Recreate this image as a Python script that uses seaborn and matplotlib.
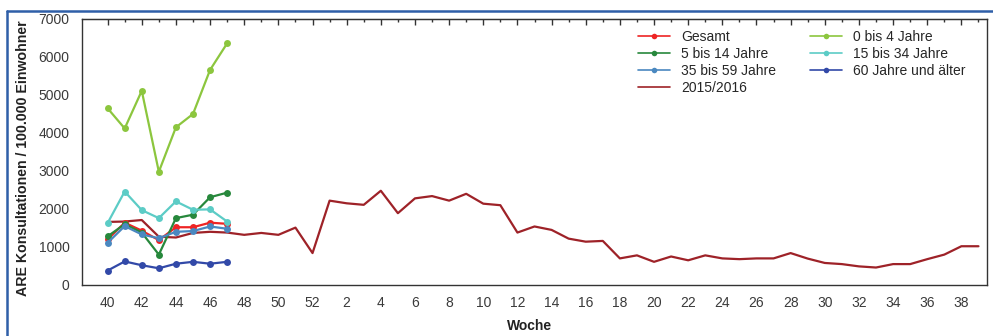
import numpy as np
import pandas as pd
import matplotlib
matplotlib.use("Agg")
import matplotlib.pyplot as plt
import seaborn as sns
from matplotlib.patches import Rectangle
from matplotlib.lines import Line2D

## Kalenderwochen der Saison (40 ... 52, 1 ... 39)
wochen = list(range(40, 53)) + list(range(1, 40))

## aktuelle Saison, Wochen 40-47
gesamt = [1200, 1640, 1430, 1180, 1520, 1520, 1640, 1610]
alter_0_4 = [4650, 4120, 5110, 2980, 4150, 4500, 5660, 6360]
alter_5_14 = [1280, 1600, 1380, 800, 1760, 1850, 2310, 2430]
alter_15_34 = [1630, 2460, 1970, 1760, 2200, 1980, 1990, 1670]
alter_35_59 = [1110, 1550, 1330, 1230, 1400, 1420, 1540, 1480]
alter_60 = [380, 620, 520, 440, 560, 610, 560, 610]

## Vorsaison 2015/2016
saison_2015 = [1660, 1670, 1710, 1270, 1250, 1370, 1400, 1380, 1320, 1370,
               1320, 1510, 840, 2220, 2150, 2110, 2480, 1890, 2280, 2340,
               2220, 2400, 2140, 2100, 1380, 1540, 1450, 1220, 1140, 1160,
               700, 780, 610, 750, 650, 780, 700, 680, 700, 700,
               840, 695, 580, 550, 490, 460, 550, 550, 680, 800,
               1020, 1020]

serien = [
    ("Gesamt", gesamt, "#ee2424"),
    ("0 bis 4 Jahre", alter_0_4, "#8cc63e"),
    ("5 bis 14 Jahre", alter_5_14, "#27883c"),
    ("15 bis 34 Jahre", alter_15_34, "#5cccc6"),
    ("35 bis 59 Jahre", alter_35_59, "#4a88c0"),
    ("60 Jahre und älter", alter_60, "#3249a8"),
]

sns.set_style("white")
plt.rcParams["font.family"] = ["Liberation Sans", "DejaVu Sans"]

fig = plt.figure(figsize=(9.93, 3.36), dpi=100)
ax = fig.add_axes([82 / 993, 1 - 285 / 336, (987 - 82) / 993, (285 - 19) / 336])

idx = np.arange(len(wochen))
df_alt = pd.DataFrame({"i": idx, "wert": saison_2015})
sns.lineplot(data=df_alt, x="i", y="wert", ax=ax, color="#9e2228", lw=1.6, zorder=2)

handles = {}
for name, werte, farbe in serien:
    d = pd.DataFrame({"i": idx[:len(werte)], "wert": werte})
    sns.lineplot(data=d, x="i", y="wert", ax=ax, color=farbe, lw=1.6,
                 marker="o", markersize=5, markeredgewidth=0, zorder=3)
    handles[name] = Line2D([], [], color=farbe, lw=1.2, marker="o",
                           markersize=4, markeredgewidth=0)
handles["2015/2016"] = Line2D([], [], color="#9e2228", lw=1.2)

reihenfolge = ["Gesamt", "5 bis 14 Jahre", "35 bis 59 Jahre", "2015/2016",
               "0 bis 4 Jahre", "15 bis 34 Jahre", "60 Jahre und älter"]
ax.legend([handles[n] for n in reihenfolge], reihenfolge, ncol=2, frameon=False,
          loc="upper left", bbox_to_anchor=(638 / 993, 1 - 30 / 336),
          bbox_transform=fig.transFigure, fontsize=10, handlelength=2.3,
          handletextpad=0.8, columnspacing=2.45, labelspacing=0.22,
          borderaxespad=0, borderpad=0)

## Achsen
ax.set_xlim(-1.5, 51.5)
ax.set_ylim(0, 7000)
major = [i for i, w in enumerate(wochen) if w % 2 == 0]
minor = [i for i, w in enumerate(wochen) if w % 2 == 1]
ax.set_xticks(major)
ax.set_xticklabels([str(wochen[i]) for i in major])
ax.set_xticks(minor, minor=True)
ax.set_yticks(range(0, 7001, 1000))
ax.set_yticks(range(0, 7001, 200), minor=True)
ax.tick_params(axis="both", which="major", direction="inout", length=8, width=1,
               color="#333333", labelsize=10, labelcolor="#3a3a3a")
ax.tick_params(axis="both", which="minor", direction="inout", length=5, width=1,
               color="#333333")
ax.tick_params(axis="x", which="both", pad=4)
ax.tick_params(axis="y", which="major", pad=5)

## Striche oben nur nach innen
oben = ax.secondary_xaxis("top")
oben.set_xticks(major)
oben.set_xticks(minor, minor=True)
oben.tick_params(which="major", direction="in", length=4, width=1,
                 color="#333333", labeltop=False)
oben.tick_params(which="minor", direction="in", length=2.5, width=1,
                 color="#333333")
oben.spines["top"].set_color("#333333")

for s in ax.spines.values():
    s.set_color("#333333")
    s.set_linewidth(1)
ax.set_xlabel("")
ax.set_ylabel("")

fig.text(530 / 993, 1 - 326 / 336, "Woche", ha="center", va="center",
         fontsize=10, fontweight="bold", color="#222222")
fig.text(23 / 993, 1 - 296 / 336, "ARE Konsultationen / 100.000 Einwohner",
         rotation=90, ha="center", va="bottom", fontsize=10.2,
         fontweight="bold", color="#222222")

## blauer Rahmen oben und links
fig.patches.append(Rectangle((0, 1 - 10 / 336), 1, 10 / 336,
                             transform=fig.transFigure, color="white", zorder=10))
fig.add_artist(Line2D([7 / 993, 1], [1 - 11 / 336, 1 - 11 / 336],
                      transform=fig.transFigure, color="#2f5fa8", lw=1.8, zorder=11))
fig.add_artist(Line2D([7 / 993, 7 / 993], [0, 1 - 11 / 336],
                      transform=fig.transFigure, color="#2f5fa8", lw=1.8, zorder=11))

fig.savefig("out.png", dpi=100)
